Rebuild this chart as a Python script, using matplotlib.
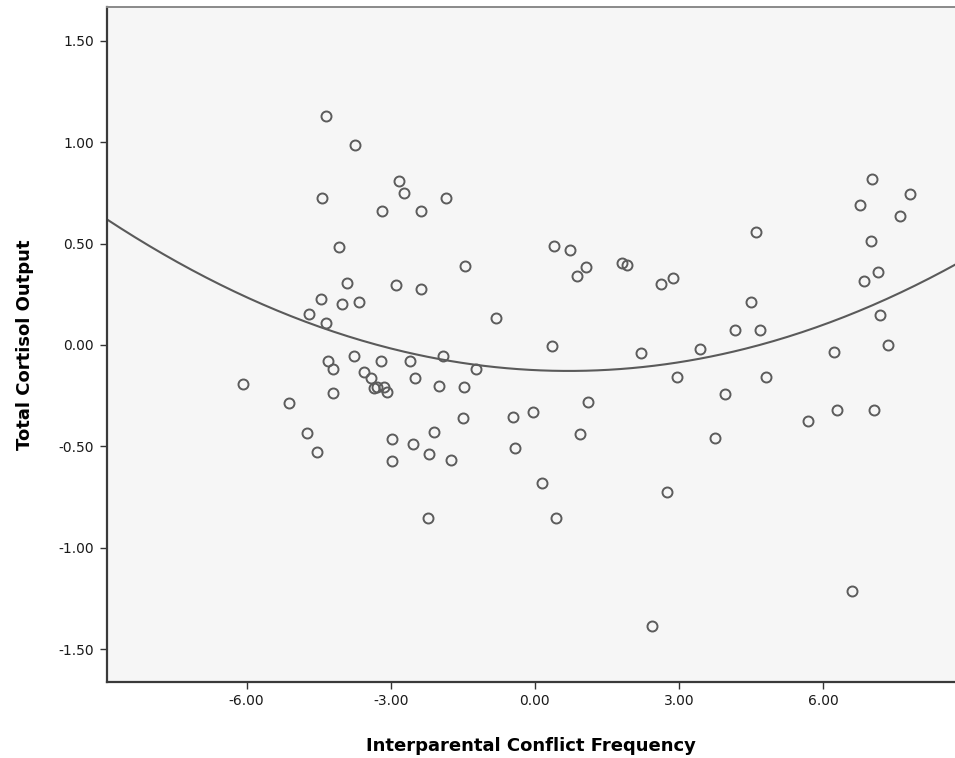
"""Total cortisol output vs interparental conflict frequency, with quadratic fit."""

import matplotlib

matplotlib.use("Agg")
import matplotlib.pyplot as plt
import numpy as np
from matplotlib.ticker import FormatStrFormatter

# observed points (x = conflict frequency, y = cortisol output)
conflict = [
    -4.35, -3.74, -2.82, -2.72, -4.43, -3.19, -2.37, -1.85, -4.07, -1.45,
    -3.92, -2.90, -2.37, -4.45, -4.01, -3.65, -4.70, -4.34, -3.77, -4.31,
    -4.20, -3.20, -2.60, -1.92, -1.23, -3.55, -3.42, -3.34, -3.28, -3.13,
    -3.07, -2.50, -2.00, -1.47, -6.08, -5.12, -4.20, -1.50, -4.75, -4.54,
    -2.98, -2.53, -2.09, -2.21, -2.98, -1.75, -2.23, 0.39, 0.74, 1.07,
    0.87, 1.82, 1.91, 2.62, 2.87, -0.82, 0.35, 2.20, 3.43, 2.96,
    3.95, 1.11, -0.45, -0.035, -0.41, 0.94, 0.14, 0.44, 2.75, 2.44,
    3.75, 5.68, 6.28, 7.05, 6.59, 4.80, 7.01, 7.81, 6.77, 7.59,
    4.61, 7.00, 7.13, 6.84, 4.50, 4.16, 4.69, 7.18, 7.34, 6.22,
]
cortisol = [
    1.13, 0.986, 0.81, 0.75, 0.726, 0.662, 0.662, 0.726, 0.485, 0.39,
    0.307, 0.294, 0.275, 0.225, 0.20, 0.214, 0.151, 0.107, -0.056, -0.079,
    -0.12, -0.079, -0.077, -0.053, -0.12, -0.133, -0.161, -0.21, -0.209, -0.205,
    -0.233, -0.164, -0.202, -0.209, -0.192, -0.288, -0.238, -0.358, -0.436, -0.529,
    -0.465, -0.487, -0.43, -0.539, -0.572, -0.567, -0.855, 0.49, 0.467, 0.383,
    0.342, 0.406, 0.394, 0.30, 0.332, 0.135, -0.003, -0.038, -0.018, -0.159,
    -0.242, -0.28, -0.355, -0.332, -0.508, -0.439, -0.68, -0.855, -0.725, -1.384,
    -0.46, -0.376, -0.322, -0.322, -1.215, -0.16, 0.82, 0.746, 0.69, 0.634,
    0.556, 0.513, 0.358, 0.316, 0.214, 0.074, 0.074, 0.15, -0.002, -0.035,
]

# quadratic fit line as drawn in the chart (x^2, x, const)
fit_coefs = [0.0081, -0.01134, -0.124]

x_ticks = [-6.0, -3.0, 0.0, 3.0, 6.0]
y_ticks = [-1.5, -1.0, -0.5, 0.0, 0.5, 1.0, 1.5]

plt.rcParams["axes.unicode_minus"] = False
plt.rcParams["font.family"] = "DejaVu Sans"

fig = plt.figure(figsize=(9.55, 7.58), dpi=100)
ax = fig.add_axes([0.1117, 0.1007, 0.8883, 0.8897])
ax.set_facecolor("#f6f6f6")

xlim = (-8.91, 8.74)
ax.set_xlim(*xlim)
ax.set_ylim(-1.66, 1.665)

fit_x = np.linspace(xlim[0], xlim[1], 300)
ax.plot(fit_x, np.polyval(fit_coefs, fit_x), color="#5a5a5a", linewidth=1.5, zorder=2)

ax.plot(conflict, cortisol, linestyle="none", marker="o", markersize=7.2,
        markerfacecolor="none", markeredgecolor="#5c5c5c", markeredgewidth=1.4, zorder=3)

ax.set_xticks(x_ticks)
ax.set_yticks(y_ticks)
ax.xaxis.set_major_formatter(FormatStrFormatter("%.2f"))
ax.yaxis.set_major_formatter(FormatStrFormatter("%.2f"))
ax.tick_params(axis="both", direction="out", length=5, width=1.0, color="#333333",
               labelsize=10, labelcolor="#1a1a1a", pad=4)

for side in ("left", "bottom"):
    ax.spines[side].set_color("#3a3a3a")
    ax.spines[side].set_linewidth(1.6)
ax.spines["top"].set_color("#8a8a8a")
ax.spines["top"].set_linewidth(1.4)
ax.spines["right"].set_visible(False)

ax.set_xlabel("Interparental Conflict Frequency", fontsize=13, fontweight="bold", labelpad=21)
ax.set_ylabel("Total Cortisol Output", fontsize=13, fontweight="bold", labelpad=18)

fig.savefig("out.png", dpi=100, facecolor="white")
